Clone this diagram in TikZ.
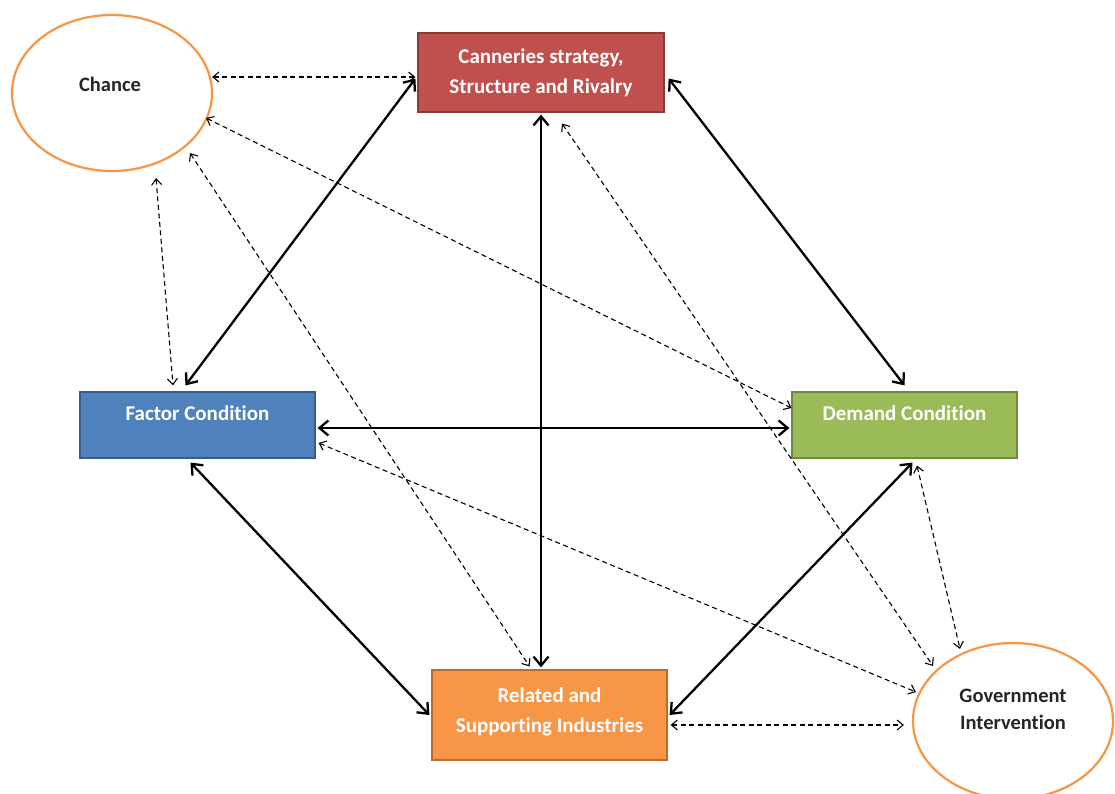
\documentclass[tikz,border=0pt]{standalone}
\usepackage{fontspec}
\setmainfont{Carlito}[Ligatures={NoCommon}]
\usetikzlibrary{arrows.meta,shapes.geometric}
\definecolor{cRed}{HTML}{C0504D}\definecolor{cRedB}{HTML}{8C3A38}
\definecolor{cBlue}{HTML}{4F81BD}\definecolor{cBlueB}{HTML}{385D8A}
\definecolor{cGreen}{HTML}{9BBB59}\definecolor{cGreenB}{HTML}{71893F}
\definecolor{cOrange}{HTML}{F79646}\definecolor{cOrangeB}{HTML}{B66D31}
\definecolor{cText}{HTML}{262626}
\tikzset{
  box/.style={draw, line width=1.2pt, inner sep=0pt},
  boxtext/.style={text=white, font=\fontsize{21}{30}\selectfont\bfseries, align=center, inner sep=0pt},
  oval/.style={ellipse, draw=cOrange, line width=2.2pt, fill=white, inner sep=0pt, minimum width=200pt, minimum height=156pt},
  ovaltext/.style={text=cText, font=\fontsize{20.5}{27}\selectfont\bfseries, align=center, inner sep=0pt},
  solidlink/.style={line width=2.3pt, {Straight Barb[length=9pt,width=15pt]}-{Straight Barb[length=9pt,width=15pt]}},
  dashlink/.style={line width=1.1pt, dash pattern=on 5pt off 3.5pt, {Straight Barb[length=6pt,width=10pt]}-{Straight Barb[length=6pt,width=10pt]}}
}
\begin{document}
\begin{tikzpicture}[x=1pt,y=-1pt]
\useasboundingbox[fill=white] (0,0) rectangle (1115,794);
% nodes
\node[oval] (ch) at (112,93) {};
\node[ovaltext] (chT) at (110,84) {Chance};
\node[oval] (gov) at (1013,721) {};
\node[ovaltext] (govT) at (1013,709) {Government\\Intervention};
\node[box, fill=cRed, draw=cRedB, minimum width=246pt, minimum height=79pt] (can) at (541,72.5) {};
\node[boxtext] (canT) at (541,73) {Canneries strategy,\\Structure and Rivalry};
\node[box, fill=cBlue, draw=cBlueB, minimum width=235pt, minimum height=66pt] (fac) at (197.5,425) {};
\node[boxtext] (facT) at (197.5,413) {Factor Condition};
\node[box, fill=cGreen, draw=cGreenB, minimum width=225pt, minimum height=66pt] (dem) at (904.5,425) {};
\node[boxtext] (demT) at (904.5,413) {Demand Condition};
\node[box, fill=cOrange, draw=cOrangeB, minimum width=235pt, minimum height=90pt] (rel) at (549.5,715) {};
\node[boxtext] (relT) at (549.5,712) {Related and\\Supporting Industries};
% solid connectors
\draw[solidlink] ([xshift=-12pt,yshift=6pt]fac.north) -- ([xshift=-2pt,yshift=-6pt]can.west);
\draw[solidlink] ([xshift=4pt,yshift=-6pt]can.east) -- ([yshift=6pt]dem.north);
\draw[solidlink] ([yshift=-2pt]can.south) -- ([yshift=2pt]can.south |- rel.north);
\draw[solidlink] ([xshift=2pt,yshift=-3pt]fac.east) -- ([xshift=-2pt,yshift=-3pt]dem.west);
\draw[solidlink] ([xshift=-7pt,yshift=-4pt]fac.south) -- ([xshift=-2pt]rel.west);
\draw[solidlink] ([xshift=8pt,yshift=-4pt]dem.south) -- ([xshift=2pt]rel.east);
% dashed connectors
\draw[dashlink] ([xshift=-1pt,yshift=16pt]ch.east) -- ([xshift=-2pt,yshift=-4.5pt]can.west);
\draw[dashlink] ([xshift=44pt,yshift=-6pt]ch.south) -- ([xshift=-24.5pt,yshift=6pt]fac.north);
\draw[dashlink] ([xshift=-7pt,yshift=-25pt]ch.east) -- ([yshift=17pt]dem.west);
\draw[dashlink] ([xshift=78pt,yshift=19pt]ch.south) -- ([xshift=-20pt,yshift=3pt]rel.north);
\draw[dashlink] ([xshift=21pt,yshift=-11pt]can.south) -- ([xshift=-80pt,yshift=-24pt]gov.north);
\draw[dashlink] ([xshift=12.5pt,yshift=-7pt]dem.south) -- ([xshift=-53pt,yshift=-7pt]gov.north);
\draw[dashlink] ([xshift=3pt,yshift=-18pt]fac.east) -- ([xshift=4pt,yshift=29pt]gov.west);
\draw[dashlink] ([xshift=3pt,yshift=-10pt]rel.east) -- ([xshift=-8pt,yshift=-4pt]gov.west);
\end{tikzpicture}
\end{document}
